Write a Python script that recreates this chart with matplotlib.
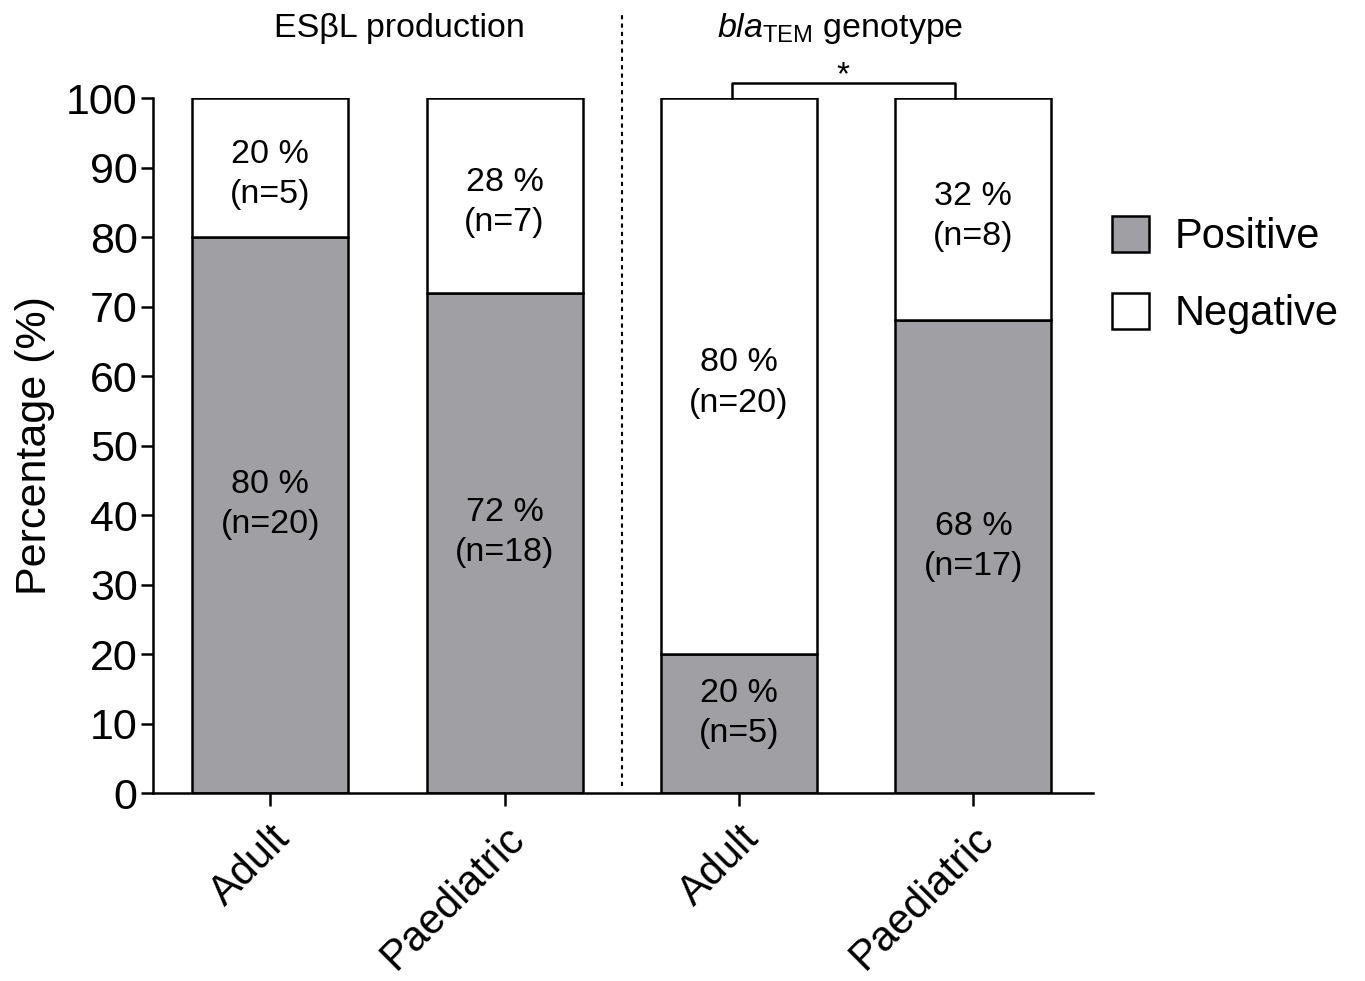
import matplotlib
matplotlib.use("Agg")
import matplotlib.pyplot as plt
from matplotlib.patches import Patch
import numpy as np

plt.rcParams['font.family'] = ['Liberation Sans', 'DejaVu Sans']
plt.rcParams['mathtext.fontset'] = 'custom'
plt.rcParams['mathtext.rm'] = 'Liberation Sans'
plt.rcParams['mathtext.it'] = 'Liberation Sans:italic'

# ---- data ----
categories = ["Adult", "Paediatric", "Adult", "Paediatric"]
group_titles = ["ES\u03b2L production", r"$\mathit{bla}_{\mathrm{TEM}}$ genotype"]
positive_pct = [80, 72, 20, 68]
negative_pct = [20, 28, 80, 32]
positive_n = [20, 18, 5, 17]
negative_n = [5, 7, 20, 8]
yticks = list(range(0, 101, 10))

gray = "#a0a0a4"

fig = plt.figure(figsize=(13.65, 9.81), dpi=100)
ax = fig.add_axes([0.1121, 0.1916, 0.8007 - 0.1121, 0.9001 - 0.1916])

x = np.arange(len(categories))
w = 0.665
ax.bar(x, positive_pct, width=w, color=gray, edgecolor="black", linewidth=1.8, zorder=2)
ax.bar(x, negative_pct, width=w, bottom=positive_pct, color="white",
       edgecolor="black", linewidth=1.8, zorder=2)

for xi, p, q, npos, nneg in zip(x, positive_pct, negative_pct, positive_n, negative_n):
    ax.text(xi, p / 2 + 1.5, f"{p} %\n(n={npos})", ha="center", va="center",
            fontsize=24.5, linespacing=1.38, zorder=3)
    ax.text(xi, p + q / 2 - 1.0, f"{q} %\n(n={nneg})", ha="center", va="center",
            fontsize=24.5, linespacing=1.38, zorder=3)

ax.set_xlim(-0.5, 3.51)
ax.set_ylim(0, 100)
ax.set_yticks(yticks)
ax.set_yticklabels([str(t) for t in yticks], fontsize=31)
ax.set_xticks(x)
ax.set_xticklabels(categories, fontsize=30, rotation=45, ha="right",
                   rotation_mode="anchor")
ax.tick_params(axis="both", direction="out", length=9, width=1.8)
ax.tick_params(axis="y", pad=2)
ax.tick_params(axis="x", pad=9)
for s in ["top", "right"]:
    ax.spines[s].set_visible(False)
for s in ["left", "bottom"]:
    ax.spines[s].set_linewidth(1.8)
ax.set_ylabel("Percentage (%)", fontsize=31, labelpad=8)

# dotted divider
ax.plot([1.5, 1.5], [1, 112], linestyle=(0, (2, 2)), color="black",
        linewidth=1.5, clip_on=False)

# group titles
ax.text(0.55, 110, group_titles[0], ha="center", va="center", fontsize=24.5,
        clip_on=False)
ax.text(2.43, 110, group_titles[1], ha="center", va="center", fontsize=24.5,
        clip_on=False)

# significance bracket
ax.plot([1.97, 1.97, 2.92, 2.92], [100, 102.1, 102.1, 100], color="black",
        linewidth=1.8, clip_on=False)
ax.text(2.445, 103.2, "*", ha="center", va="center", fontsize=24, clip_on=False)

handles = [Patch(facecolor=gray, edgecolor="black", linewidth=1.8, label="Positive"),
           Patch(facecolor="white", edgecolor="black", linewidth=1.8, label="Negative")]
fig.legend(handles=handles, loc="upper left", bbox_to_anchor=(0.787, 0.818),
           frameon=False, fontsize=30, handlelength=0.9, handleheight=0.95,
           handletextpad=0.6, labelspacing=0.85)

fig.savefig("out.png", dpi=100)
